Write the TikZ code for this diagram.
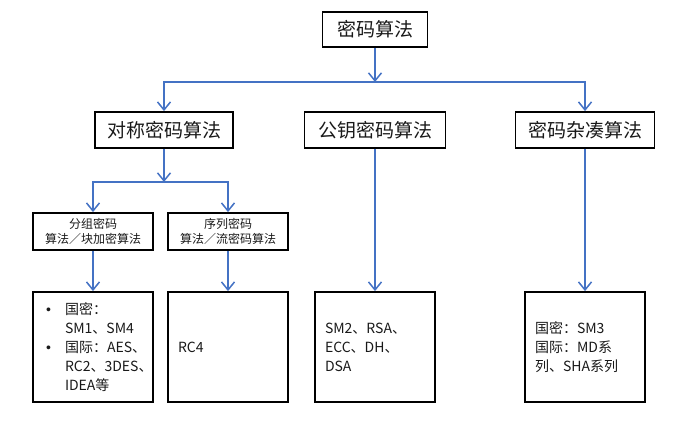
\documentclass[tikz,border=0pt]{standalone}
\usepackage{fontspec}
\setmainfont{Noto Sans CJK SC}
\newfontfamily\latfont{Liberation Sans}
\usetikzlibrary{arrows.meta}
\definecolor{linkblue}{RGB}{68,114,196}
\newcommand{\leafdot}{\makebox[22pt][l]{\hspace{3pt}{\latfont •}}}

\begin{document}
\begin{tikzpicture}[x=1pt,y=-1pt]
\tikzstyle{cbox}=[draw,line width=1.8pt,inner sep=0pt,text=black!90]
\tikzstyle{ctop}=[cbox,minimum height=36pt,font=\fontsize{19}{22}\selectfont]
\tikzstyle{cmid}=[cbox,minimum width=120pt,minimum height=37pt,align=center,font=\fontsize{12}{14.5}\selectfont]
\tikzstyle{cleaf}=[cbox,minimum height=110pt,text width=100pt,inner xsep=10pt,align=left,font=\fontsize{14}{19}\selectfont]
\tikzstyle{clink}=[draw=linkblue,line width=1.5pt,-{Straight Barb[length=8pt,width=13pt]}]
\useasboundingbox (0,0) rectangle (692,428);
% levels 1 and 2
\node[ctop,minimum width=105pt,minimum height=35pt] (root) at (375,29.5) {密码算法};
\node[ctop,minimum width=138pt] (sym) at (164,130) {对称密码算法};
\node[ctop,minimum width=141pt] (pub) at (375,130) {公钥密码算法};
\node[ctop,minimum width=139pt] (hash) at (585,130) {密码杂凑算法};
% level 3
\node[cmid] (block) at (93,231.5) {分组密码\\算法／块加密算法};
\node[cmid] (stream) at (228,231.5) {序列密码\\算法／流密码算法};
% leaves
\node[cleaf] (block4) at (93,347) {\leafdot 国密：\\
  \hspace*{22pt}SM1、SM4\\
  \leafdot 国际：AES、\\
  \hspace*{22pt}RC2、3DES、\\
  \hspace*{22pt}IDEA等};
\node[cleaf] (stream4) at (228,347) {RC4};
\node[cleaf] (pub4) at (375,347) {SM2、RSA、\\ECC、DH、\\DSA};
\node[cleaf] (hash4) at (585,347) {国密：SM3\\国际：MD系\\列、SHA系列};
\coordinate (bus) at (375,82);
\coordinate (symbus) at (164,182);
\draw[clink] (root) -- (bus); % tree
\draw[clink] (bus) -| (sym);
\draw[clink] (bus) -| (hash);
\draw[clink] (pub) -- (pub4);
\draw[clink] (hash) -- (hash4);
\draw[clink] (sym) -- (symbus);
\draw[clink] (symbus) -| (block);
\draw[clink] (symbus) -| (stream);
\draw[clink] (block) -- (block4);
\draw[clink] (stream) -- (stream4);
\end{tikzpicture}
\end{document}
